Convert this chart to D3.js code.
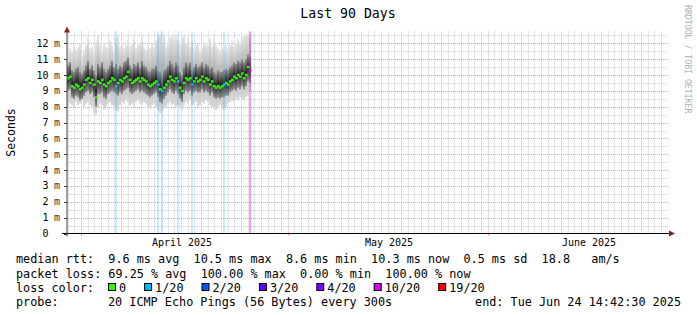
<!DOCTYPE html>
<html>
<head>
<meta charset="utf-8">
<script src="https://cdn.jsdelivr.net/npm/d3@7/dist/d3.min.js"></script>
<style>
  html, body { margin: 0; padding: 0; background: #ffffff; }
  svg { display: block; }
  text { font-family: "DejaVu Sans Mono", monospace; white-space: pre; }
</style>
</head>
<body>
<svg id="chart" width="697" height="315"></svg>
<script>
// ---------------- data ----------------
const titleText = "Last 90 Days";
const yAxisTitle = "Seconds";
const watermark = "RRDTOOL / TOBI OETIKER";

// sample grid: one sample every 0.3 day starting at day 0 of the 90-day window
const sampleStartDay = 0;
const sampleStepDays = 0.3;

const medianRtt = [
  9.8,9.9,9.3,9.2,9.4,9.3,9.1,9.2,9.4,9.7,
  9.8,9.5,9.7,9.4,8.6,9.6,9.5,9.7,9.4,9.3,
  9.5,9.6,9.8,9.7,9.3,9.5,9.7,9.6,9.8,9.9,
  10.2,9.7,9.5,9.6,9.7,9.8,9.6,9.8,9.7,9.6,
  9.4,9.3,9.4,9.5,9.6,9.4,9.1,9.0,9.2,9.4,
  9.6,9.9,9.7,9.6,9.8,9.6,9.2,9.0,9.5,9.8,
  9.7,9.8,9.4,9.6,9.8,9.6,9.7,9.9,9.6,9.8,
  9.7,9.4,9.6,9.3,9.2,9.3,9.2,9.3,9.4,9.5,
  9.4,9.6,9.7,9.9,9.8,10.0,9.9,10.1,9.8,10.0,
  10.5,10.3
];
const pingMax = [
  11.4,11.7,11.5,11.9,11.6,11.8,12.0,11.3,11.6,11.9,
  12.4,11.7,11.8,11.5,12.1,12.5,11.9,11.6,12.0,11.8,
  11.7,12.2,11.9,11.6,12.3,12.5,11.8,12.0,11.7,11.9,
  12.2,11.8,12.0,12.4,11.7,11.9,12.1,12.5,11.8,11.6,
  11.9,11.7,12.0,11.8,12.2,12.5,12.6,11.9,12.6,11.8,
  12.1,12.4,12.6,12.3,12.5,12.2,11.9,12.4,12.6,12.0,
  12.3,11.8,12.1,11.7,11.9,12.0,11.6,11.8,12.1,11.9,
  12.0,12.3,11.8,12.4,11.9,11.7,11.6,11.8,11.5,11.9,
  11.7,11.9,12.2,11.8,12.0,12.3,12.1,12.4,12.5,12.6,
  12.6,12.6
];
const pingUpper = [
  10.6,10.8,10.3,10.2,10.4,10.5,10.2,10.1,10.3,10.6,
  10.9,10.4,10.6,10.3,10.0,10.7,10.5,10.8,10.4,10.2,
  10.4,10.6,10.9,10.5,10.7,10.4,10.6,10.5,10.8,10.9,
  11.1,10.6,10.4,10.7,10.6,10.8,10.5,10.9,10.6,10.5,
  10.3,10.2,10.4,10.4,10.6,10.3,10.2,10.0,10.3,10.4,
  10.6,10.9,10.7,10.5,10.8,10.6,10.2,10.0,10.5,10.8,
  10.6,10.8,10.3,10.5,10.7,10.5,10.6,10.8,10.5,10.7,
  10.6,10.4,10.5,10.2,10.1,10.3,10.2,10.2,10.3,10.4,
  10.3,10.5,10.6,10.8,10.7,10.9,10.8,11.0,10.8,11.0,
  11.3,11.2
];
const pingLower = [
  9.0,9.1,8.6,8.5,8.7,8.6,8.4,8.5,8.7,8.9,
  9.0,8.8,8.9,8.6,8.0,8.8,8.8,8.9,8.6,8.5,
  8.8,8.9,9.0,8.9,8.8,8.7,8.9,8.8,9.0,9.1,
  9.2,8.9,8.8,8.9,9.0,9.1,8.9,9.0,8.9,8.8,
  8.7,8.6,8.7,8.8,8.9,8.6,8.3,8.2,8.5,8.7,
  8.9,9.1,8.9,8.8,9.0,8.8,8.5,8.3,8.8,9.0,
  8.9,9.0,8.7,8.9,9.0,8.9,8.9,9.1,8.9,9.0,
  8.9,8.7,8.9,8.6,8.5,8.6,8.5,8.6,8.6,8.7,
  8.7,8.9,9.0,9.1,9.0,9.2,9.1,9.3,9.1,9.3,
  9.6,9.5
];
const pingMin = [
  8.0,8.2,8.1,8.0,8.3,8.1,8.2,8.4,8.0,8.2,
  8.3,8.1,8.0,7.6,7.5,7.9,8.2,8.1,7.8,8.0,
  8.2,8.3,8.1,8.0,7.8,7.7,8.1,8.3,8.2,8.4,
  8.3,8.1,8.2,8.0,8.3,8.4,8.2,8.1,8.3,8.2,
  8.0,7.9,8.1,8.2,8.0,7.8,7.6,7.7,7.9,8.0,
  8.2,8.3,8.1,8.2,8.0,8.1,7.9,7.8,8.1,8.3,
  8.2,8.4,8.1,8.2,8.3,8.0,8.1,8.3,8.2,8.4,
  8.3,8.1,8.0,7.9,7.8,8.0,8.1,7.9,7.8,8.0,
  8.2,8.3,8.4,8.3,8.5,8.4,8.6,8.5,8.4,8.6,
  8.7,9.0
];
// samples with packet loss (index into the arrays above, number of lost pings of 20)
const lossIndex = [24, 45, 47, 55, 62, 78, 91];
const lossCount = [1, 1, 1, 1, 1, 1, 10];

// loss colour legend
const lossLevels = [0, 1, 2, 3, 4, 10, 19];
const lossLabels = ["0", "1/20", "2/20", "3/20", "4/20", "10/20", "19/20"];
const lossColors = ["#26ff00", "#00b8ff", "#0059ff", "#5e00ff", "#7e00ff", "#dd00ff", "#ff0000"];

// axes
const yTicks = [0,1,2,3,4,5,6,7,8,9,10,11,12];
const yTickLabels = ["0","1","2","3","4","5","6","7","8","9","10","11","12"];
const yUnit = "m";
const totalDays = 90;
const majorGridDays = [2.1, 33.15, 63.15];
const monthLabels = ["April 2025", "May 2025", "June 2025"];

// legend text
const legendRtt = "median rtt:  9.6 ms avg  10.5 ms max  8.6 ms min  10.3 ms now  0.5 ms sd  18.8   am/s";
const legendLoss = "packet loss: 69.25 % avg  100.00 % max  0.00 % min  100.00 % now";
const legendLossColor = "loss color:";
const legendProbeLabel = "probe:";
const legendProbe = "20 ICMP Echo Pings (56 Bytes) every 300s";
const legendEnd = "end: Tue Jun 24 14:42:30 2025";

// ---------------- drawing ----------------
const svg = d3.select("#chart");
const W = 697, H = 315;
const plot = { left: 67, right: 667, top: 31.5, bottom: 233.5 };
const charW = 7.1;

svg.append("rect").attr("width", W).attr("height", H).attr("fill", "#ffffff");

const x = d3.scaleLinear().domain([0, totalDays]).range([plot.left, plot.right]);
const y = d3.scaleLinear().domain([0, 12.75]).range([plot.bottom, plot.top]);

const defs = svg.append("defs");
function vgrad(id, stops) {
  const g = defs.append("linearGradient").attr("id", id)
    .attr("x1", 0).attr("y1", 0).attr("x2", 0).attr("y2", 1);
  stops.forEach(s => g.append("stop").attr("offset", s[0]).attr("stop-color", s[1]));
}
vgrad("smokeOuter", [[0, "#e6e6e6"], [0.45, "#b0b0b0"], [1, "#d8d8d8"]]);
vgrad("smokeInner", [[0, "#909090"], [0.5, "#222222"], [1, "#909090"]]);

// grid
const grid = svg.append("g");
const minorDays = d3.range(-2, totalDays + 1).map(k => majorGridDays[0] + k)
  .filter(d => d > 0.05 && d < totalDays);
grid.selectAll("line.vmin").data(minorDays).join("line")
  .attr("x1", d => Math.round(x(d)) + 0.5).attr("x2", d => Math.round(x(d)) + 0.5)
  .attr("y1", plot.top).attr("y2", plot.bottom)
  .attr("stroke", "#cccccc").attr("stroke-width", 1).attr("stroke-dasharray", "1,1");
const minorY = d3.range(0.5, 12.75, 1);
grid.selectAll("line.hmin").data(minorY).join("line")
  .attr("x1", plot.left).attr("x2", plot.right + 1)
  .attr("y1", d => Math.round(y(d)) + 0.5).attr("y2", d => Math.round(y(d)) + 0.5)
  .attr("stroke", "#cccccc").attr("stroke-width", 1).attr("stroke-dasharray", "1,1");
grid.selectAll("line.hmaj").data(yTicks.filter(d => d > 0)).join("line")
  .attr("x1", plot.left).attr("x2", plot.right + 1)
  .attr("y1", d => Math.round(y(d)) + 0.5).attr("y2", d => Math.round(y(d)) + 0.5)
  .attr("stroke", "#e8a4a4").attr("stroke-width", 1).attr("stroke-dasharray", "1,1");
grid.selectAll("line.vmaj").data(majorGridDays).join("line")
  .attr("x1", d => Math.round(x(d)) + 0.5).attr("x2", d => Math.round(x(d)) + 0.5)
  .attr("y1", plot.top).attr("y2", plot.bottom)
  .attr("stroke", "#f0b8b8").attr("stroke-width", 1).attr("stroke-dasharray", "1,2");

// smoke
const samples = medianRtt.map((m, i) => ({
  i, med: m, max: pingMax[i], up: pingUpper[i], lo: pingLower[i], min: pingMin[i],
  d0: sampleStartDay + i * sampleStepDays, d1: sampleStartDay + (i + 1) * sampleStepDays,
  loss: 0
}));
lossIndex.forEach((li, k) => { samples[li].loss = lossCount[k]; });

function lossColor(n) {
  let c = lossColors[0];
  lossLevels.forEach((lv, k) => { if (n >= lv) c = lossColors[k]; });
  return c;
}

const smoke = svg.append("g");
smoke.selectAll("rect.outer").data(samples).join("rect")
  .attr("x", d => x(d.d0)).attr("width", d => x(d.d1) - x(d.d0))
  .attr("y", d => y(d.max)).attr("height", d => y(d.min) - y(d.max))
  .attr("fill", "url(#smokeOuter)");
smoke.selectAll("rect.inner").data(samples).join("rect")
  .attr("x", d => x(d.d0)).attr("width", d => x(d.d1) - x(d.d0))
  .attr("y", d => y(d.up)).attr("height", d => y(d.lo) - y(d.up))
  .attr("fill", "url(#smokeInner)");

// loss bars
const lossSamples = samples.filter(d => d.loss > 0);
svg.append("g").selectAll("rect").data(lossSamples).join("rect")
  .attr("x", d => { const w = d.loss >= 10 ? 2 : 1.2; return x((d.d0 + d.d1) / 2) - w / 2; })
  .attr("width", d => d.loss >= 10 ? 2 : 1.2)
  .attr("y", plot.top).attr("height", plot.bottom - plot.top)
  .attr("fill", d => lossColor(d.loss)).attr("opacity", 0.38);

// median
svg.append("g").selectAll("rect").data(samples).join("rect")
  .attr("x", d => x(d.d0)).attr("width", d => x(d.d1) - x(d.d0) + 0.6)
  .attr("y", d => y(d.med) - 1.2).attr("height", 2.4)
  .attr("fill", d => lossColor(d.loss));

// axes
const axisG = svg.append("g");
axisG.append("line").attr("x1", plot.left - 5).attr("x2", plot.right + 4)
  .attr("y1", plot.bottom).attr("y2", plot.bottom).attr("stroke", "#000").attr("stroke-width", 1);
axisG.append("line").attr("x1", plot.left).attr("x2", plot.left)
  .attr("y1", plot.bottom + 3).attr("y2", plot.top - 2).attr("stroke", "#404040").attr("stroke-width", 1);
axisG.append("path")
  .attr("d", `M${plot.right + 8},${plot.bottom} L${plot.right + 2},${plot.bottom - 3} L${plot.right + 2},${plot.bottom + 3} Z`)
  .attr("fill", "#8b1e1e");
axisG.append("path")
  .attr("d", `M${plot.left},${plot.top - 5} L${plot.left - 3},${plot.top + 1} L${plot.left + 3},${plot.top + 1} Z`)
  .attr("fill", "#8b1e1e");
// y ticks
axisG.selectAll("line.yt").data(yTicks).join("line")
  .attr("x1", plot.left - 3).attr("x2", plot.left)
  .attr("y1", d => Math.round(y(d)) + 0.5).attr("y2", d => Math.round(y(d)) + 0.5)
  .attr("stroke", "#404040");
axisG.selectAll("line.xt").data(majorGridDays).join("line")
  .attr("x1", d => Math.round(x(d)) + 0.5).attr("x2", d => Math.round(x(d)) + 0.5)
  .attr("y1", plot.bottom).attr("y2", plot.bottom + 2)
  .attr("stroke", "#ff0000").attr("opacity", 0.5);

// y labels
const yl = svg.append("g").attr("font-size", 10).attr("fill", "#000");
yl.selectAll("text.n").data(yTicks).join("text")
  .attr("x", 48.5).attr("y", d => y(d) + 3.5).attr("text-anchor", "end")
  .text((d, i) => yTickLabels[i]);
yl.selectAll("text.u").data(yTicks.filter(d => d > 0)).join("text")
  .attr("x", 54).attr("y", d => y(d) + 3.5).attr("fill", "#333").text(yUnit);

// x labels (centred on mid-period)
svg.append("g").selectAll("text").data(majorGridDays).join("text")
  .attr("x", d => x(d + 15.15)).attr("y", 245.5).attr("text-anchor", "middle")
  .attr("font-size", 10).text((d, i) => monthLabels[i]);

// title
svg.append("text").attr("x", 348).attr("y", 18).attr("text-anchor", "middle")
  .attr("font-size", 13.2).text(titleText);

// y-axis title
svg.append("text").attr("transform", `translate(14.5,${(plot.top + plot.bottom) / 2}) rotate(-90)`)
  .attr("text-anchor", "middle").attr("font-size", 11.5).text(yAxisTitle);

// watermark
svg.append("text").attr("transform", "translate(684.5,5) rotate(90)")
  .attr("font-size", 8.2).attr("fill", "#b0b0b0").text(watermark);

// legend
const lg = svg.append("g").attr("font-size", 11.8).attr("fill", "#000");
lg.append("text").attr("x", 16).attr("y", 263).text(legendRtt);
lg.append("text").attr("x", 16).attr("y", 277.5).text(legendLoss);
lg.append("text").attr("x", 16).attr("y", 291.5).text(legendLossColor);
lg.append("text").attr("x", 16).attr("y", 306).text(legendProbeLabel);
lg.append("text").attr("x", 108).attr("y", 306).text(legendProbe);
lg.append("text").attr("x", 681).attr("y", 306).attr("text-anchor", "end").text(legendEnd);

let bx = 108;
lossLabels.forEach((lab, k) => {
  lg.append("rect").attr("x", bx + 0.5).attr("y", 283.5).attr("width", 7).attr("height", 7)
    .attr("fill", lossColors[k]).attr("stroke", "#000").attr("stroke-width", 1);
  lg.append("text").attr("x", bx + 11).attr("y", 291.5).text(lab);
  bx = bx + 11 + lab.length * charW + 18;
});
</script>
</body>
</html>
